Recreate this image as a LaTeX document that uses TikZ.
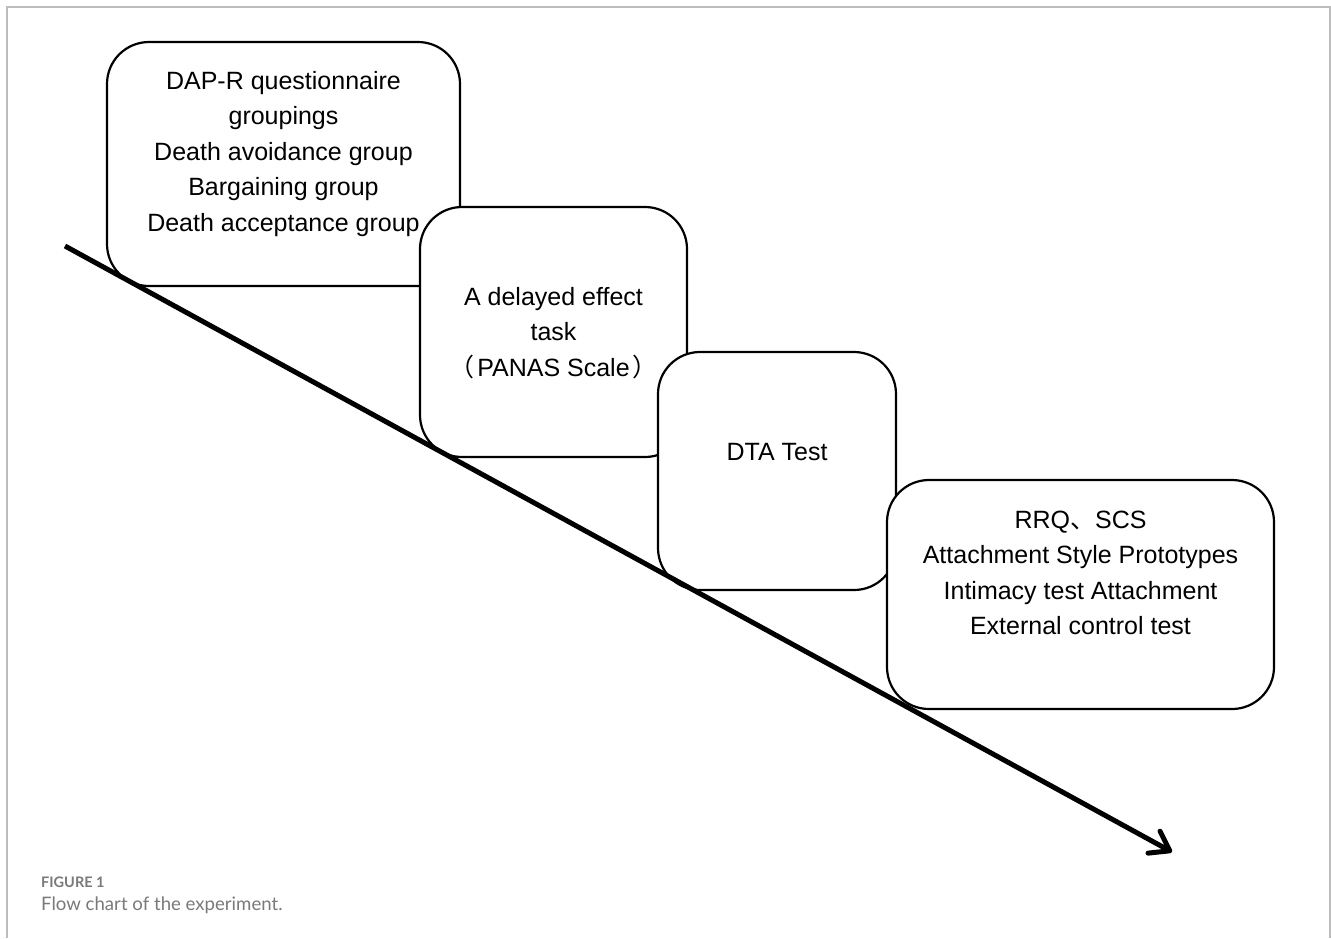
\documentclass[tikz,border=0pt]{standalone}
\usepackage{fontspec}
\setmainfont{Liberation Sans}
\newfontfamily\cjk{Noto Sans CJK SC}
\newfontfamily\capfont{Lato}
\usetikzlibrary{arrows.meta}
\definecolor{framegray}{HTML}{BDBDBD}
\definecolor{capgray}{HTML}{7A7A7A}
\tikzset{
  stagebox/.style={draw=black, line width=2.2pt, fill=white, rounded corners=42pt, inner sep=0pt},
  stagetext/.style={align=center, font=\fontsize{25pt}{35.5pt}\selectfont, inner sep=0pt},
  timeline/.style={line width=5pt, -{Straight Barb[length=18pt, width=25pt, round]}},
}
\begin{document}
\begin{tikzpicture}[x=1pt, y=-1pt]
\useasboundingbox (0,0) rectangle (1331,938);
\fill[white] (0,0) rectangle (1331,938);
\draw[framegray, line width=1.6pt] (7,938) -- (7,7) -- (1330,7) -- (1330,938);

\node[stagebox, minimum width=353pt, minimum height=244pt] (b1) at (283.5,164) {};
\node[stagetext] (t1) at (283.5,154) {DAP-R questionnaire\\groupings\\Death avoidance group\\Bargaining group\\Death acceptance group};

\node[stagebox, minimum width=267pt, minimum height=250pt] (b2) at (553.5,332) {};
\node[stagetext] (t2) at (553.5,333) {A delayed effect\\task\\{\cjk （}\kern3pt PANAS Scale\kern3pt{\cjk ）}};

\node[stagebox, minimum width=238pt, minimum height=238pt] (b3) at (777,471) {};
\node[stagetext] (t3) at (777,452) {DTA Test};

\node[stagebox, minimum width=387pt, minimum height=229pt] (b4) at (1080.5,594.5) {};
\node[stagetext] (t4) at (1080.5,573) {RRQ{\cjk 、}SCS\\Attachment Style Prototypes\\Intimacy test Attachment\\External control test};

\coordinate (start) at (65,246);
\coordinate (tip) at (1172,852);
\draw[timeline] (start) -- (tip);

\node[anchor=west, inner sep=0pt, text=capgray, font=\capfont\bfseries\fontsize{14.5pt}{16pt}\selectfont] (figlabel) at (41,882) {FIGURE 1};
\node[anchor=west, inner sep=0pt, text=capgray, font=\capfont\fontsize{18.6pt}{22pt}\selectfont] (figcap) at (41,905) {Flow chart of the experiment.};
\end{tikzpicture}
\end{document}
